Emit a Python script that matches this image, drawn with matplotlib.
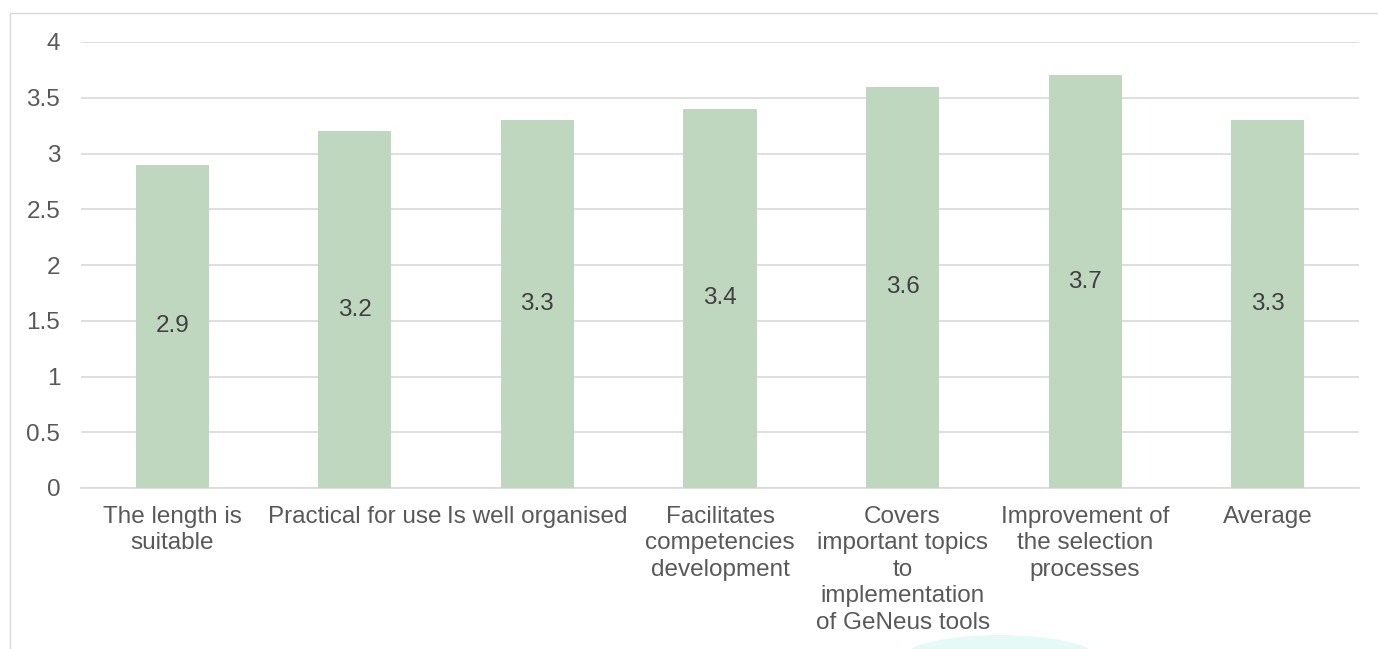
import matplotlib
matplotlib.use("Agg")
import matplotlib.pyplot as plt
from matplotlib.patches import Ellipse
from matplotlib.lines import Line2D

categories = ["The length is\nsuitable", "Practical for use", "Is well organised",
              "Facilitates\ncompetencies\ndevelopment",
              "Covers\nimportant topics\nto\nimplementation\nof GeNeus tools",
              "Improvement of\nthe selection\nprocesses", "Average"]
values = [2.9, 3.2, 3.3, 3.4, 3.6, 3.7, 3.3]
yticks = [0, 0.5, 1, 1.5, 2, 2.5, 3, 3.5, 4]
ytick_labels = ["0", "0.5", "1", "1.5", "2", "2.5", "3", "3.5", "4"]

plt.rcParams['font.family'] = ['Liberation Sans', 'DejaVu Sans']
W, H = 1378, 649
fig = plt.figure(figsize=(W / 100, H / 100), dpi=100)
ax = fig.add_axes([81 / W, 1 - 488 / H, (1359 - 81) / W, (488 - 42) / H])

FS = 17.5
x = list(range(len(categories)))
bars = ax.bar(x, values, width=0.4, color="#BFD7BF", zorder=3)
for xi, v in zip(x, values):
    ax.text(xi, v / 2, f"{v}", ha="center", va="center", fontsize=FS, color="#404040", zorder=4)

ax.set_xlim(-0.5, len(categories) - 0.5)
ax.set_ylim(0, 4)
ax.set_yticks(yticks)
ax.set_yticklabels(ytick_labels)
ax.set_xticks(x)
ax.set_xticklabels(categories, linespacing=1.26)
ax.tick_params(axis="both", length=0, labelsize=FS, labelcolor="#595959")
ax.tick_params(axis="y", pad=15)
ax.tick_params(axis="x", pad=13)
ax.yaxis.grid(True, color="#D9D9D9", linewidth=1.2, zorder=0)
for s in ["top", "right", "left"]:
    ax.spines[s].set_visible(False)
ax.spines["bottom"].set_color("#D9D9D9")
ax.spines["bottom"].set_linewidth(1.2)

# outer frame lines
fig.add_artist(Line2D([10 / W, 10 / W], [0, 1 - 13 / H], transform=fig.transFigure, color="#D9D9D9", lw=1))
fig.add_artist(Line2D([10 / W, 1], [1 - 13 / H, 1 - 13 / H], transform=fig.transFigure, color="#D9D9D9", lw=1))

# faint decorative blob at bottom
fig.add_artist(Ellipse((1000 / W, 1 - 660 / H), 200 / W, 50 / H, transform=fig.transFigure,
                       color="#D5F5F2", alpha=0.6, lw=0))

fig.savefig("out.png", dpi=100)
